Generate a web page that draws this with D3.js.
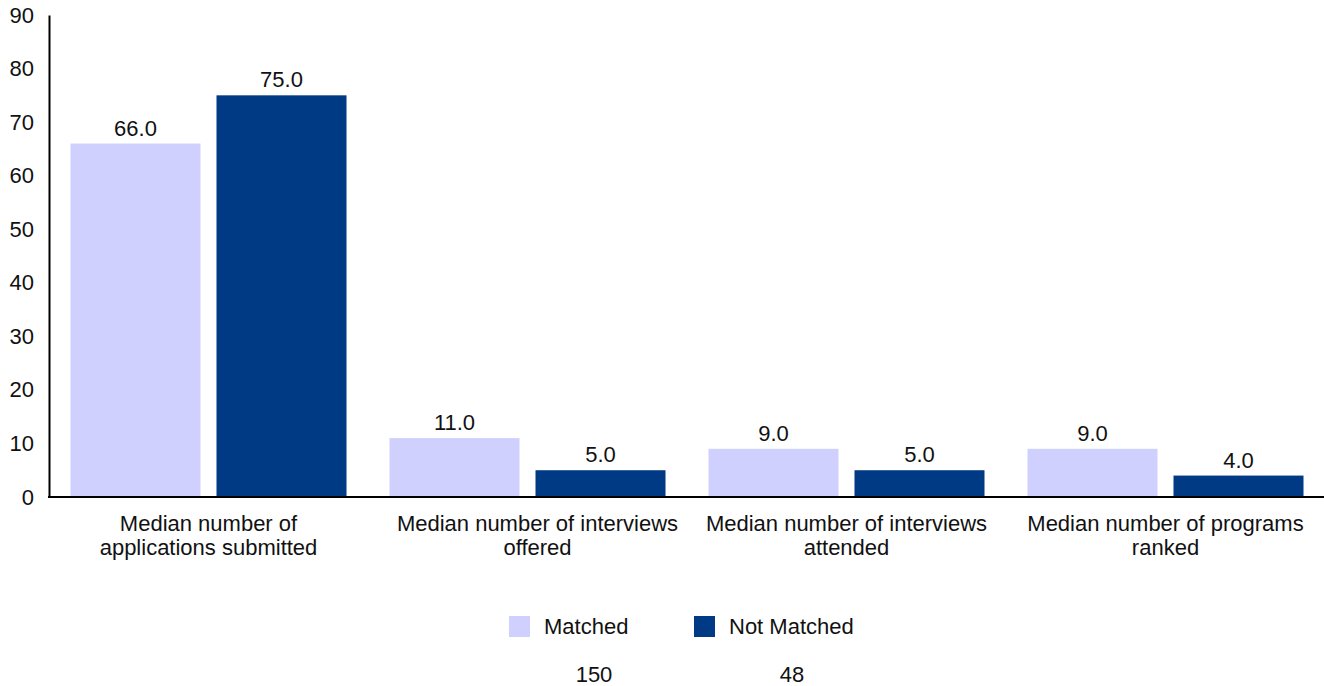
<!DOCTYPE html>
<html><head><meta charset="utf-8">
<script src="https://cdn.jsdelivr.net/npm/d3@7"></script>
<style>body{margin:0;background:#fff;} svg{display:block;font-family:"Liberation Sans",Arial,sans-serif;}</style>
</head><body><svg id="c" width="1324" height="686"></svg>
<script>
const categories = [
  ["Median number of", "applications submitted"],
  ["Median number of interviews", "offered"],
  ["Median number of interviews", "attended"],
  ["Median number of programs", "ranked"]
];
const seriesNames = ["Matched", "Not Matched"];
const matched = [66, 11, 9, 9];
const notMatched = [75, 5, 5, 4];
const counts = [150, 48];
const yTicks = [0,10,20,30,40,50,60,70,80,90];
const colors = ["#D0D0FF", "#003984"];

const FS = 22;
const labelShift = [0, 10, 0, 0];
const svg = d3.select("#c");
const x0 = d3.scaleBand().domain(d3.range(categories.length)).range([49, 1325]);
const x1 = d3.scaleBand().domain([0,1]).range([21.5, 319-21.5]).paddingInner(16/146);
const y = d3.scaleLinear().domain([0,90]).range([497,15]);

// y axis
const yAxis = svg.append("g").attr("transform","translate(49,0)")
  .call(d3.axisLeft(y).tickValues(yTicks).tickSize(0).tickPadding(15));
yAxis.select(".domain").attr("stroke","#000").attr("stroke-width",2);
yAxis.selectAll("text").attr("font-size",FS).attr("fill","#111").attr("font-family","Liberation Sans, Arial, sans-serif");

const series = [matched, notMatched];
categories.forEach((c,i)=>{
  const g = svg.append("g").attr("transform",`translate(${x0(i)},0)`);
  series.forEach((s,k)=>{
    g.append("rect").attr("x",x1(k)).attr("width",x1.bandwidth())
      .attr("y",y(s[i])).attr("height",y(0)-y(s[i])).attr("fill",colors[k]);
    g.append("text").attr("x",x1(k)+x1.bandwidth()/2).attr("y",y(s[i])-8)
      .attr("text-anchor","middle").attr("font-size",FS).attr("fill","#111")
      .text(d3.format(".1f")(s[i]));
  });
  const t = g.append("text").attr("text-anchor","middle").attr("font-size",FS).attr("fill","#111");
  c.forEach((line,j)=>{
    t.append("tspan").attr("x",x0.bandwidth()/2 + labelShift[i]).attr("y",531+j*24).text(line);
  });
});

// baseline
svg.append("line").attr("x1",48).attr("x2",1324).attr("y1",y(0)).attr("y2",y(0))
  .attr("stroke","#000").attr("stroke-width",2);

// legend
const legX = [509, 694];
const cntX = [594, 792];
seriesNames.forEach((n,k)=>{
  svg.append("rect").attr("x",legX[k]).attr("y",616).attr("width",21).attr("height",21).attr("fill",colors[k]);
  svg.append("text").attr("x",legX[k]+35).attr("y",634).attr("font-size",FS).attr("fill","#111").text(n);
  svg.append("text").attr("x",cntX[k]).attr("y",682).attr("text-anchor","middle").attr("font-size",FS).attr("fill","#111").text(counts[k]);
});
</script></body></html>
